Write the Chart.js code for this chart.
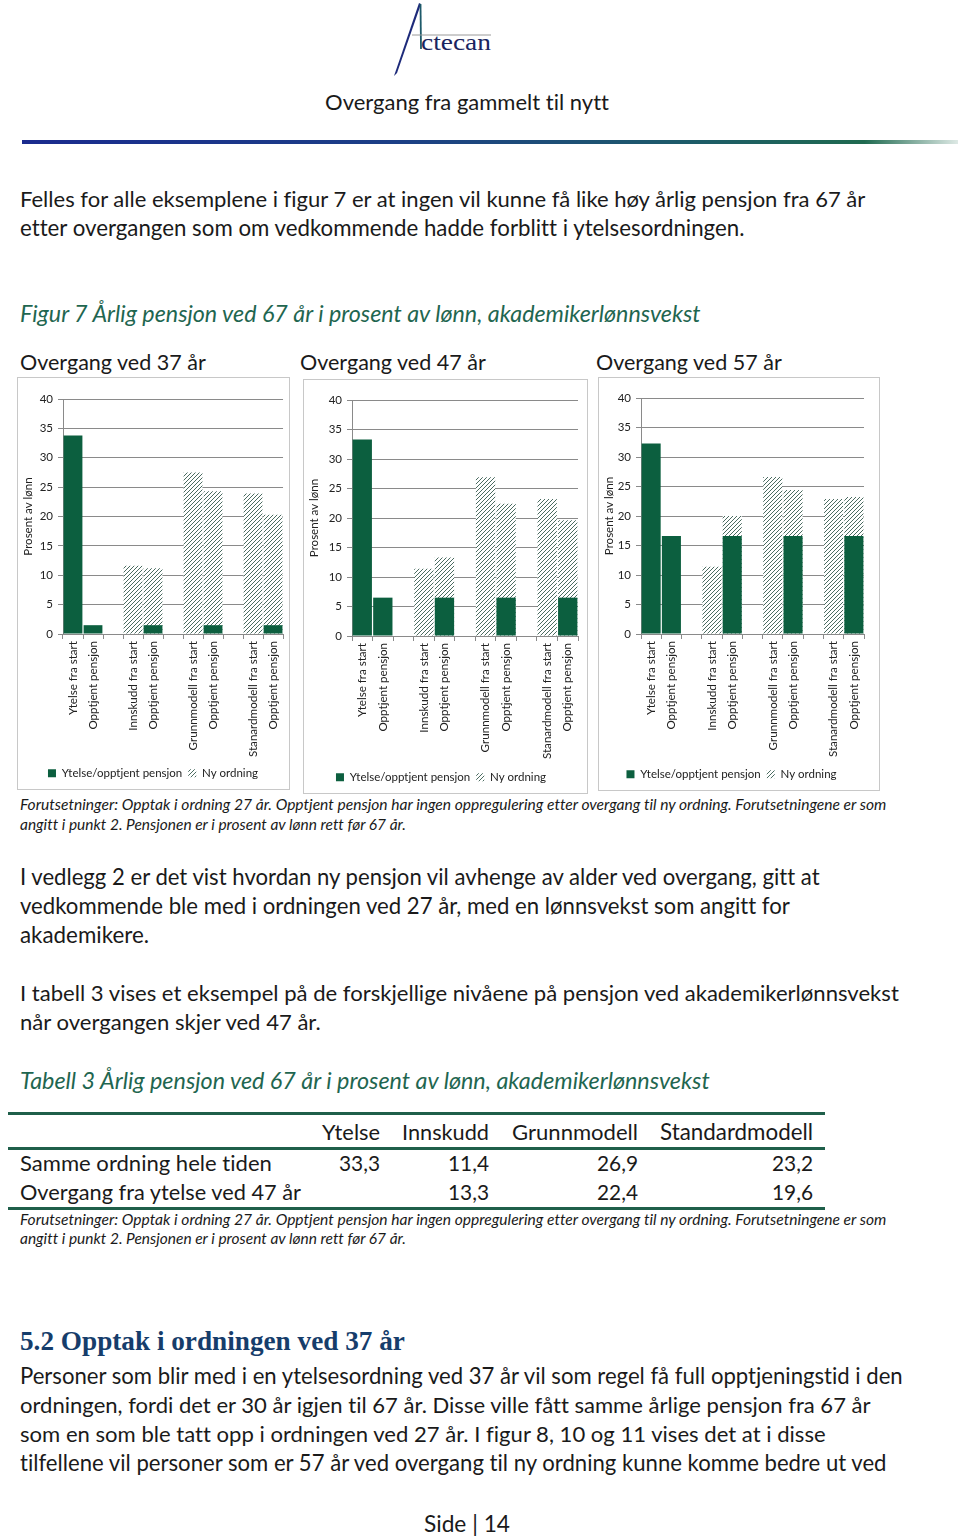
<!DOCTYPE html>
<html>
<head>
<meta charset="utf-8">
<script src="https://cdn.jsdelivr.net/npm/chart.js@4.4.1/dist/chart.umd.min.js"></script>
<style>
  html,body{margin:0;padding:0;background:#fff;}
  body{width:960px;height:1536px;position:relative;overflow:hidden;font-family:Lato,"Noto Sans",sans-serif;color:#1a1a1a;font-variant-ligatures:none;font-feature-settings:"liga" 0,"clig" 0;}
  .tx{position:absolute;white-space:nowrap;}
  .it{font-style:italic;}
  .cap{font-style:italic;color:#1f6650;}
  .h2{font-family:"Liberation Serif","DejaVu Serif",serif;font-weight:bold;color:#163d6b;}
  .box{position:absolute;border:1px solid #c8c8c8;background:#fff;}
  .box canvas{position:absolute;left:0;top:0;}
  .rule{position:absolute;}
</style>
</head>
<body>
<svg style="position:absolute;left:370px;top:0" width="150" height="85" viewBox="370 0 150 85">
  <polygon points="394,76 419,3 421,4 397,73" fill="#1d2a7a"/>
  <line x1="420.5" y1="4" x2="421" y2="49" stroke="#1e5a6a" stroke-width="1.8"/>
  <line x1="412" y1="35" x2="491" y2="35" stroke="#9a9a9a" stroke-width="1"/>
  <text x="421" y="50" font-family="Liberation Serif, DejaVu Serif, serif" font-size="24" fill="#1a2560" textLength="70" lengthAdjust="spacingAndGlyphs">ctecan</text>
</svg>
<div class="rule" style="left:22px;top:140px;width:936px;height:4px;background:linear-gradient(to right,#1a2b8e 0%,#1c3f86 40%,#1d5a6a 70%,#1f6a50 90%,rgba(31,106,80,0.15) 100%);"></div>

<div class="box" style="left:17px;top:377px;width:271px;height:411px;"><canvas id="c1" width="271" height="411"></canvas></div>
<div class="box" style="left:303px;top:379px;width:283px;height:413px;"><canvas id="c2" width="283" height="413"></canvas></div>
<div class="box" style="left:598px;top:377px;width:280px;height:412px;"><canvas id="c3" width="280" height="412"></canvas></div>

<div class="rule" style="left:8px;top:1112px;width:817px;height:3px;background:#1f5f4a;"></div>
<div class="rule" style="left:8px;top:1147px;width:817px;height:3px;background:#1f5f4a;"></div>
<div class="rule" style="left:8px;top:1207px;width:817px;height:3px;background:#1f5f4a;"></div>

<script>
// ---------- chart data ----------
const categories = ['Ytelse fra start','Opptjent pensjon','','Innskudd fra start','Opptjent pensjon','','Grunnmodell fra start','Opptjent pensjon','','Stanardmodell fra start','Opptjent pensjon'];
const seriesNames = ['Ytelse/opptjent pensjon','Ny ordning'];
const yTicks = [0,5,10,15,20,25,30,35,40];
const yAxisTitle = 'Prosent av lønn';

const ytelse37 = [33.8, 1.5, null, null, 1.5, null, null, 1.5, null, null, 1.5];
const ny37     = [null, null, null, 11.6, 11.2, null, 27.5, 24.3, null, 23.9, 20.3];

const ytelse47 = [33.3, 6.5, null, null, 6.5, null, null, 6.5, null, null, 6.5];
const ny47     = [null, null, null, 11.4, 13.3, null, 26.9, 22.4, null, 23.2, 19.6];

const ytelse57 = [32.3, 16.6, null, null, 16.6, null, null, 16.6, null, null, 16.6];
const ny57     = [null, null, null, 11.4, 20.0, null, 26.6, 24.4, null, 22.9, 23.2];

// ---------- layout (positions, not data) ----------
const layouts = {
  c1:{yW:45, top:21, right:1, plotH:235},
  c2:{yW:48, top:20, right:9, plotH:236},
  c3:{yW:42, top:20, right:15, plotH:236}
};

Chart.defaults.font.family = 'Lato, "Noto Sans", sans-serif';
Chart.defaults.color = '#222';

function hatchPattern(){
  const c = document.createElement('canvas');
  c.width = 4; c.height = 4;
  const g = c.getContext('2d');
  g.fillStyle = '#fff'; g.fillRect(0,0,4,4);
  g.strokeStyle = '#4a6b60'; g.lineWidth = 1;
  g.beginPath();
  g.moveTo(0,4); g.lineTo(4,0);
  g.moveTo(-1,1); g.lineTo(1,-1);
  g.moveTo(3,5); g.lineTo(5,3);
  g.stroke();
  return g.createPattern(c,'repeat');
}
const hatch = hatchPattern();
const green = '#0c5f3f';

function makeChart(id, ytelse, ny){
  const L = layouts[id];
  const cv = document.getElementById(id);
  const H = cv.height;
  const legendH = 11.5 + 6 + 10;
  const bottomPad = 0;
  const xH = H - L.top - L.plotH - legendH - bottomPad;
  new Chart(cv, {
    type:'bar',
    data:{
      labels: categories,
      datasets:[
        {label:seriesNames[0], data:ytelse, backgroundColor:green, grouped:false, order:0, barPercentage:0.94, categoryPercentage:1},
        {label:seriesNames[1], data:ny, backgroundColor:hatch, grouped:false, order:1, barPercentage:0.94, categoryPercentage:1}
      ]
    },
    options:{
      responsive:false, animation:false, devicePixelRatio:1,
      layout:{padding:{top:L.top, right:L.right, left:0, bottom:bottomPad}},
      plugins:{
        legend:{position:'bottom', labels:{boxWidth:8, boxHeight:8, padding:6, font:{size:11.5}, color:'#222'}},
        tooltip:{enabled:false}
      },
      scales:{
        x:{
          grid:{display:true, drawOnChartArea:false, drawTicks:true, tickLength:5, offset:true, color:'#8a8a8a'},
          border:{display:true, color:'#8a8a8a'},
          ticks:{autoSkip:false, maxRotation:90, minRotation:90, padding:2, font:{size:11.6}, color:'#222'},
          afterFit(a){ a.height = xH; }
        },
        y:{
          min:0, max:40,
          afterBuildTicks(a){ a.ticks = yTicks.map(v=>({value:v})); },
          grid:{color:'#8a8a8a', tickLength:5},
          border:{display:true, color:'#8a8a8a'},
          ticks:{padding:5, font:{size:11.5}, color:'#222'},
          title:{display:true, text:yAxisTitle, font:{size:11.5}, color:'#222', padding:{top:3,bottom:0}},
          afterFit(a){ a.width = L.yW; }
        }
      }
    }
  });
}
makeChart('c1', ytelse37, ny37);
makeChart('c2', ytelse47, ny47);
makeChart('c3', ytelse57, ny57);

// ---------- page text ----------
function place(text, x, cy, w, cls, align, size){
  const d = document.createElement('div');
  d.className = 'tx ' + (cls||'');
  d.textContent = text;
  size = size || 20;
  d.style.fontSize = size + 'px';
  document.body.appendChild(d);
  if (w){
    const r = d.getBoundingClientRect().width;
    size = size * w / r;
    d.style.fontSize = size + 'px';
  }
  const h = size * 1.2;
  d.style.lineHeight = h + 'px';
  const wid = d.getBoundingClientRect().width;
  let left = x;
  if (align === 'r') left = x - wid;
  else if (align === 'c') left = x - wid/2;
  d.style.left = left + 'px';
  d.style.top = (cy - h/2) + 'px';
}
const foot1 = 'Forutsetninger: Opptak i ordning 27 år. Opptjent pensjon har ingen oppregulering etter overgang til ny ordning. Forutsetningene er som';
const foot2 = 'angitt i punkt 2. Pensjonen er i prosent av lønn rett før 67 år.';
const texts = [
  ['Overgang fra gammelt til nytt', 467, 102, 284, '', 'c'],
  ['Felles for alle eksemplene i figur 7 er at ingen vil kunne få like høy årlig pensjon fra 67 år', 20, 199, 846],
  ['etter overgangen som om vedkommende hadde forblitt i ytelsesordningen.', 20, 228, 725],
  ['Figur 7 Årlig pensjon ved 67 år i prosent av lønn, akademikerlønnsvekst', 20, 314, 681, 'cap'],
  ['Overgang ved 37 år', 20, 363, 186],
  ['Overgang ved 47 år', 300, 363, 186],
  ['Overgang ved 57 år', 596, 363, 186],
  [foot1, 20, 804, 867, 'it'],
  [foot2, 20, 824, 386, 'it'],
  ['I vedlegg 2 er det vist hvordan ny pensjon vil avhenge av alder ved overgang, gitt at', 20, 877, 800],
  ['vedkommende ble med i ordningen ved 27 år, med en lønnsvekst som angitt for', 20, 906, 770],
  ['akademikere.', 20, 935, 129],
  ['I tabell 3 vises et eksempel på de forskjellige nivåene på pensjon ved akademikerlønnsvekst', 20, 993, 879],
  ['når overgangen skjer ved 47 år.', 20, 1022, 301],
  ['Tabell 3 Årlig pensjon ved 67 år i prosent av lønn, akademikerlønnsvekst', 20, 1080, 690, 'cap'],
  ['Ytelse', 380, 1132, 58, '', 'r'],
  ['Innskudd', 489, 1132, 87, '', 'r'],
  ['Grunnmodell', 638, 1132, 126, '', 'r'],
  ['Standardmodell', 813, 1132, 153, '', 'r'],
  ['Samme ordning hele tiden', 20, 1163, 252],
  ['33,3', 380, 1163, 41, '', 'r'],
  ['11,4', 489, 1163, 41, '', 'r'],
  ['26,9', 638, 1163, 41, '', 'r'],
  ['23,2', 813, 1163, 41, '', 'r'],
  ['Overgang fra ytelse ved 47 år', 20, 1192, 281],
  ['13,3', 489, 1192, 41, '', 'r'],
  ['22,4', 638, 1192, 41, '', 'r'],
  ['19,6', 813, 1192, 41, '', 'r'],
  [foot1, 20, 1219, 867, 'it'],
  [foot2, 20, 1238, 386, 'it'],
  ['5.2 Opptak i ordningen ved 37 år', 20, 1341, 385, 'h2', 'l', 24],
  ['Personer som blir med i en ytelsesordning ved 37 år vil som regel få full opptjeningstid i den', 20, 1376, 883],
  ['ordningen, fordi det er 30 år igjen til 67 år. Disse ville fått samme årlige pensjon fra 67 år', 20, 1405, 851],
  ['som en som ble tatt opp i ordningen ved 27 år.  I figur 8, 10 og 11 vises det at i disse', 20, 1434, 806],
  ['tilfellene vil personer som er 57 år ved overgang til ny ordning kunne komme bedre ut ved', 20, 1463, 867],
  ['Side | 14', 467, 1524, 86, '', 'c']
];
texts.forEach(t => place(t[0], t[1], t[2], t[3], t[4], t[5], t[6]));
</script>
</body>
</html>
